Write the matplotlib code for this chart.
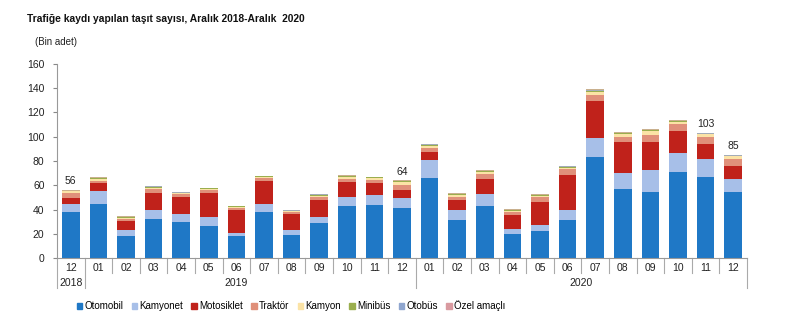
import numpy as np
import matplotlib
matplotlib.use("Agg")
import matplotlib.pyplot as plt
from matplotlib.transforms import blended_transform_factory

plt.rcParams["font.family"] = ["Liberation Sans", "DejaVu Sans"]

# ── Data (thousand units) ─────────────────────────────────────────────────────
months = ["12", "01", "02", "03", "04", "05", "06", "07", "08", "09", "10", "11", "12",
          "01", "02", "03", "04", "05", "06", "07", "08", "09", "10", "11", "12"]
years = ["2018", "2019", "2020"]

otomobil   = [38.0, 44.5, 18.4, 32.2, 29.7, 26.7, 17.9, 37.9, 19.2, 28.9, 43.2, 44.0, 41.2,
              66.3, 31.6, 43.2, 20.0, 22.3, 31.3, 83.3, 56.6, 54.4, 70.9, 66.8, 54.4]
kamyonet   = [6.5, 11.0, 4.4, 7.7, 6.3, 7.1, 2.4, 6.6, 3.6, 4.9, 7.4, 8.2, 8.6,
              14.8, 7.7, 9.6, 4.2, 4.9, 8.0, 15.7, 13.2, 18.2, 16.0, 15.1, 11.0]
motosiklet = [5.2, 6.1, 8.0, 14.0, 14.0, 19.5, 19.0, 19.3, 13.8, 14.3, 12.4, 9.4, 6.6,
              6.6, 8.5, 12.1, 11.5, 19.3, 29.4, 30.8, 26.1, 23.3, 18.1, 12.4, 10.8]
traktor    = [4.2, 2.2, 1.2, 3.0, 2.5, 2.5, 1.9, 2.2, 1.3, 2.2, 2.4, 2.7, 4.1,
              3.0, 2.2, 4.1, 2.2, 3.5, 4.4, 4.9, 3.6, 5.5, 5.2, 5.2, 5.7]
kamyon     = [1.0, 1.3, 1.2, 1.2, 0.9, 1.1, 1.0, 0.9, 0.8, 1.2, 1.5, 1.4, 1.8,
              1.8, 1.6, 1.6, 1.1, 1.4, 1.4, 2.4, 2.4, 3.0, 2.2, 2.5, 2.0]
minibus    = [0.5, 0.7, 0.7, 0.6, 0.5, 0.5, 0.5, 0.5, 0.4, 0.6, 0.8, 0.7, 0.8,
              0.9, 0.8, 0.8, 0.5, 0.6, 0.7, 0.9, 0.9, 0.9, 0.6, 0.6, 0.6]
otobus     = [0.2, 0.3, 0.3, 0.3, 0.2, 0.2, 0.2, 0.2, 0.2, 0.3, 0.3, 0.3, 0.4,
              0.4, 0.4, 0.4, 0.2, 0.3, 0.3, 0.5, 0.5, 0.5, 0.4, 0.4, 0.4]
ozel       = [0.4, 0.4, 0.4, 0.4, 0.3, 0.4, 0.3, 0.3, 0.3, 0.4, 0.5, 0.4, 0.5,
              0.5, 0.5, 0.5, 0.4, 0.5, 0.4, 0.6, 0.6, 0.6, 0.4, 0.4, 0.4]

labeled_bars = [0, 12, 23, 24]

series = [
    ("Otomobil", otomobil, "#1f78c6"),
    ("Kamyonet", kamyonet, "#a7bfe8"),
    ("Motosiklet", motosiklet, "#c0221b"),
    ("Traktör", traktor, "#e0907a"),
    ("Kamyon", kamyon, "#fbe3a6"),
    ("Minibüs", minibus, "#9aae4e"),
    ("Otobüs", otobus, "#a3acb8"),
    ("Özel amaçlı", ozel, "#c9b08e"),
]
legend_colors = ["#1f78c6", "#a7bfe8", "#c0221b", "#e0907a", "#fbe3a6", "#9aae4e",
                 "#8fa6cf", "#d99aa0"]

# ── Figure ────────────────────────────────────────────────────────────────────
fig = plt.figure(figsize=(7.94, 3.26), dpi=100)
ax = fig.add_axes([57 / 794, 68 / 326, 690 / 794, 194 / 326])

x = np.arange(len(months))
bottom = np.zeros(len(months))
handles = []
for (name, vals, col), lc in zip(series, legend_colors):
    ax.bar(x, vals, bottom=bottom, width=0.64, color=col, linewidth=0)
    handles.append(plt.Rectangle((0, 0), 1, 1, color=lc, label=name))
    bottom += np.array(vals)

for i in labeled_bars:
    ax.text(x[i], bottom[i] + 3, f"{round(bottom[i])}", ha="center", va="bottom",
            fontsize=7.5, color="#222222")

ax.set_xlim(-0.5, len(months) - 0.5)
ax.set_ylim(0, 160)
ax.set_yticks(range(0, 161, 20))
ax.tick_params(axis="y", labelsize=7.5, length=3, color="#888888", labelcolor="#222222", pad=6)
ax.set_xticks([])
for s in ["top", "right"]:
    ax.spines[s].set_visible(False)
for s in ["left", "bottom"]:
    ax.spines[s].set_color("#999999")
    ax.spines[s].set_linewidth(0.8)

# category axis: month row, year row, separators
trans = blended_transform_factory(ax.transData, ax.transAxes)
px = 1 / 194
for i, m in enumerate(months):
    ax.text(x[i], -10 * px, m, transform=trans, ha="center", va="center",
            fontsize=7.5, color="#222222")
year_sep = [-0.5, 0.5, 12.5, 24.5]
for b in np.arange(-0.5, len(months)):
    depth = 30 if b in year_sep else 15
    ax.plot([b, b], [0, -depth * px], transform=trans, color="#aaaaaa",
            lw=0.8, clip_on=False)
for yr, pos in zip(years, [0, 6.0, 18.5]):
    ax.text(pos, -25 * px, yr, transform=trans, ha="center", va="center",
            fontsize=7.5, color="#222222")

fig.text(27 / 794, 1 - 19 / 326, "Trafiğe kaydı yapılan taşıt sayısı, Aralık 2018-Aralık  2020",
         fontsize=7.4, fontweight="bold", va="center", ha="left", color="#111111")
fig.text(35 / 794, 1 - 42 / 326, "(Bin adet)", fontsize=7, va="center", ha="left",
         color="#222222")

fig.legend(handles=handles, loc="center", bbox_to_anchor=(291 / 794, 1 - 306 / 326), ncol=8,
           frameon=False, fontsize=7, handlelength=0.6, handleheight=0.6,
           handletextpad=0.2, columnspacing=0.85)

fig.savefig("out.png", dpi=100)
